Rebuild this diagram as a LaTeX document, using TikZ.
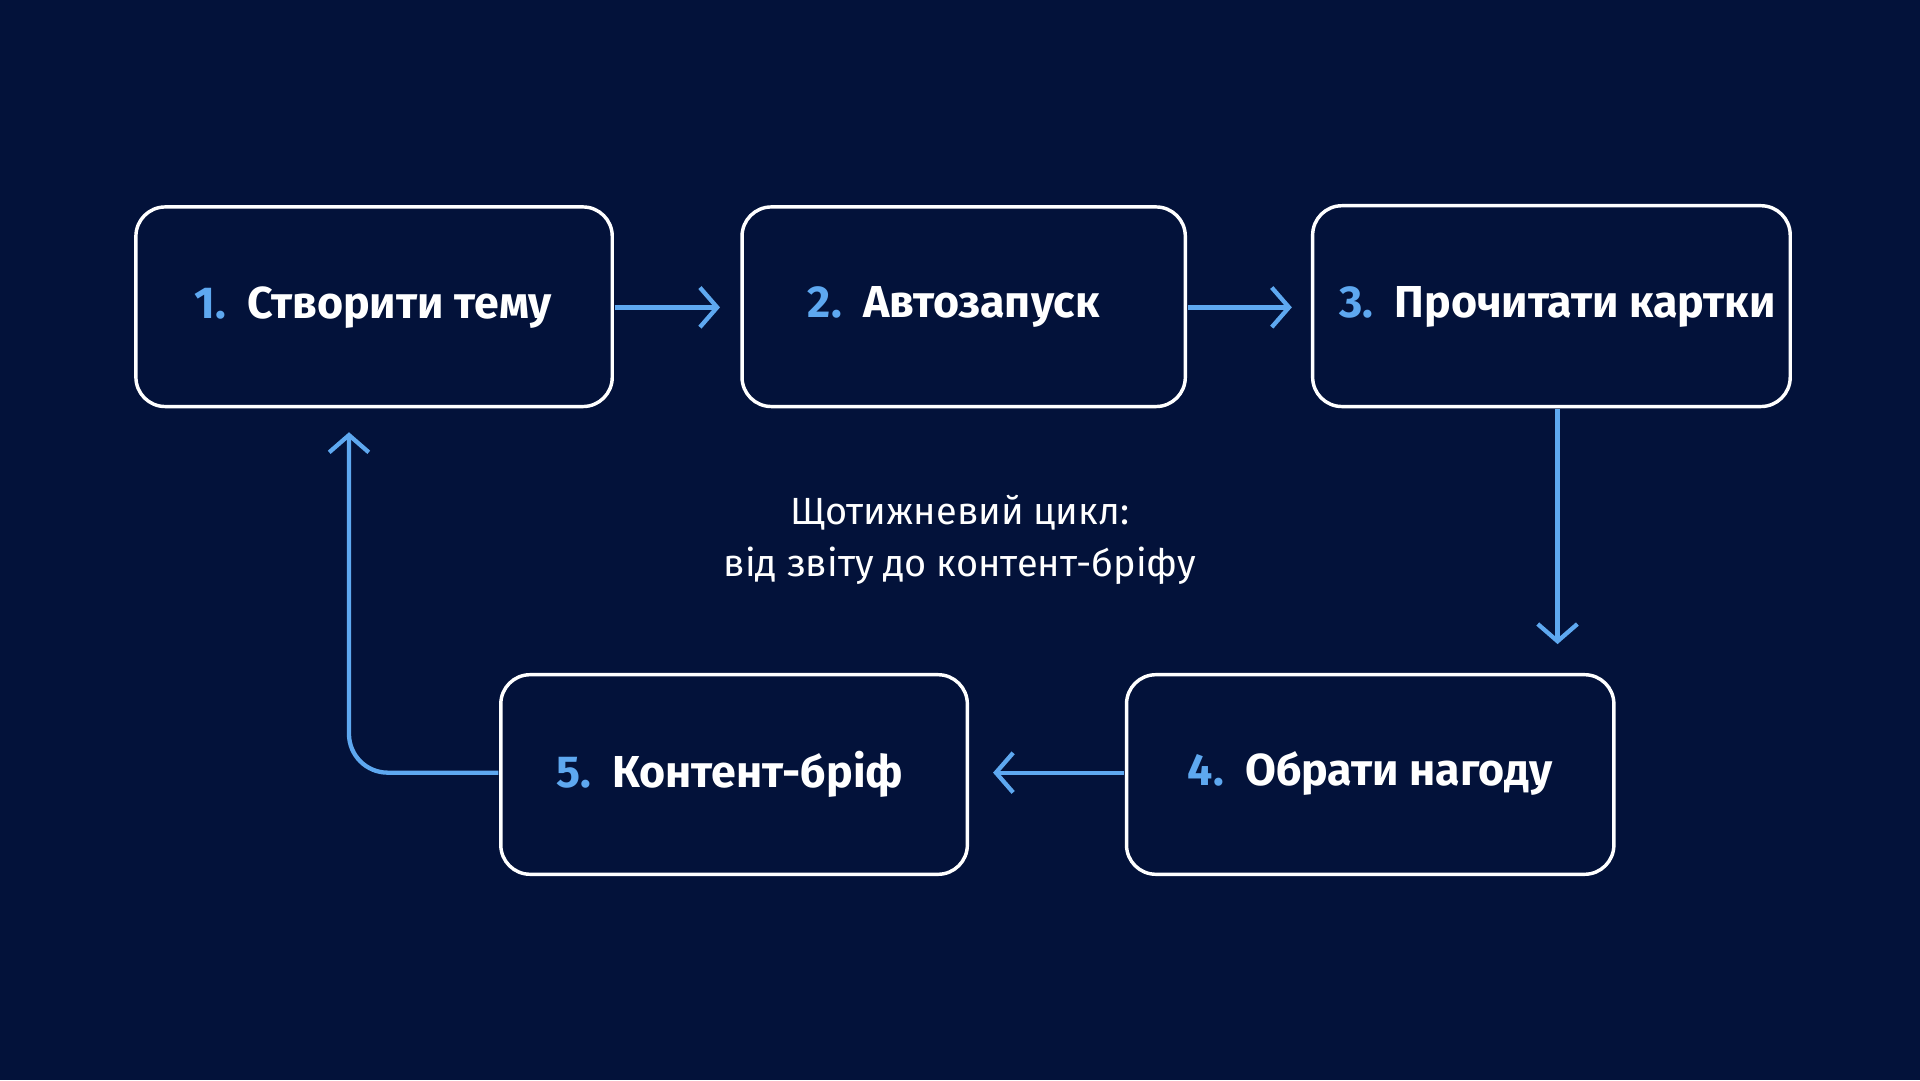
\documentclass[tikz,border=0pt]{standalone}
\usepackage{fontspec}
\setmainfont{Fira Sans}
\usetikzlibrary{arrows.meta}
\definecolor{bg}{HTML}{03123A}
\definecolor{acc}{HTML}{5EA8F0}
\begin{document}
\begin{tikzpicture}[x=0.05cm,y=-0.05cm,
 box/.style={draw=white,line width=4pt,rounded corners=34pt,inner sep=0pt},
 lbl/.style={font=\fontsize{52}{60}\selectfont\bfseries,text=white},
 arr/.style={draw=acc,line width=5pt,-{Straight Barb[length=20pt,width=46pt,line width=5pt]}}]
\fill[bg] (0,0) rectangle (1568,882);
\useasboundingbox (0,0) rectangle (1568,882);
\draw[box] (111,169) rectangle (500,332); \node[lbl] (t1) at (305,251) {\textcolor{acc}{1.}\ \ Створити тему};
\draw[box] (606,169) rectangle (968,332); \node[lbl] (t2) at (779,251) {\textcolor{acc}{2.}\ \ Автозапуск};
\draw[box] (1072,168) rectangle (1462,332); \node[lbl] (t3) at (1272,251) {\textcolor{acc}{3.}\ \ Прочитати картки};
\draw[box] (920,551) rectangle (1318,714); \node[lbl] (t4) at (1119,632) {\textcolor{acc}{4.}\ \ Обрати нагоду};
\draw[box] (409,551) rectangle (790,714); \node[lbl] (t5) at (596,632) {\textcolor{acc}{5.}\ \ Контент-бріф};
\coordinate (a1) at (502,251); \coordinate (b1) at (588,251);
\coordinate (a2) at (970,251); \coordinate (b2) at (1055,251);
\coordinate (a3) at (1272,334); \coordinate (b3) at (1272,526);
\coordinate (a4) at (918,631); \coordinate (b4) at (811,631);
\coordinate (a5) at (407,631); \coordinate (b5) at (285,353);
\draw[arr] (a1) -- (b1);
\draw[arr] (a2) -- (b2);
\draw[arr] (a3) -- (b3);
\draw[arr] (a4) -- (b4);
\draw[arr,rounded corners=45pt] (a5) -- (285,631) -- (b5);
\node[font=\fontsize{44}{61}\selectfont,text=white,align=center] (c) at (784,441) {Щотижневий цикл:\\від звіту до контент-бріфу};
\end{tikzpicture}
\end{document}
